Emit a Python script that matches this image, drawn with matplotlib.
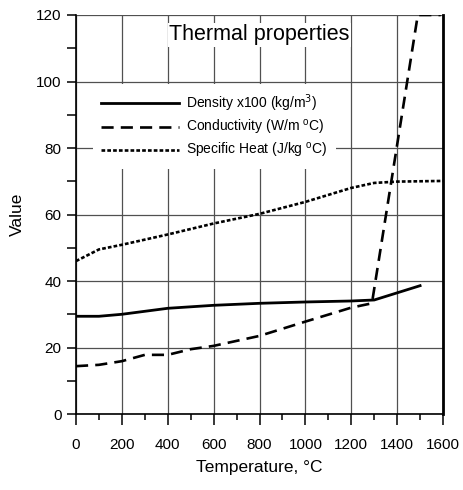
#!/usr/bin/env python3
import matplotlib
matplotlib.use("Agg")
import matplotlib.pyplot as plt
from matplotlib.ticker import MultipleLocator

plt.rcParams['font.family'] = ['Liberation Sans', 'DejaVu Sans']

# data
temp_density = [0, 100, 200, 400, 600, 800, 1000, 1200, 1300, 1500]
density = [29.4, 29.4, 30.0, 31.8, 32.7, 33.3, 33.7, 34.0, 34.3, 38.6]

temp_cond = [0, 100, 200, 300, 400, 500, 600, 800, 1000, 1200, 1290, 1490, 1590]
conductivity = [14.4, 14.8, 15.9, 17.8, 17.8, 19.5, 20.5, 23.5, 27.8, 32.0, 33.3, 120, 120]

temp_heat = [0, 100, 200, 400, 600, 800, 1000, 1200, 1300, 1400, 1600]
specific_heat = [46.0, 49.5, 50.9, 54.0, 57.3, 60.2, 63.8, 68.0, 69.5, 69.9, 70.1]

labels = ["Density x100 (kg/m$^3$)", "Conductivity (W/m $^\\mathregular{o}$C)",
          "Specific Heat (J/kg $^\\mathregular{o}$C)"]


def main():
    fig = plt.figure(figsize=(4.64, 4.90), dpi=100)
    ax = fig.add_axes([0.1638, 0.155, 0.791, 0.8144])

    ax.plot(temp_density, density, color="black", lw=2.0, label=labels[0])
    ax.plot(temp_cond, conductivity, color="black", lw=1.9, dashes=(4.6, 2.7), label=labels[1])
    ax.plot(temp_heat, specific_heat, color="black", lw=1.9, dashes=(1.4, 0.8), label=labels[2])

    ax.set_xlim(0, 1600)
    ax.set_ylim(0, 120)
    ax.xaxis.set_major_locator(MultipleLocator(200))
    ax.xaxis.set_minor_locator(MultipleLocator(100))
    ax.yaxis.set_major_locator(MultipleLocator(20))
    ax.yaxis.set_minor_locator(MultipleLocator(10))
    ax.grid(True, which="major", color="#505050", lw=0.9)
    ax.set_axisbelow(True)

    ax.tick_params(axis="x", which="major", direction="out", length=8, width=1.1, labelsize=11, pad=9)
    ax.tick_params(axis="x", which="minor", direction="out", length=4.3, width=1.1)
    ax.tick_params(axis="y", which="both", direction="out", length=6.5, width=1.1, labelsize=11, pad=4)

    ax.spines["top"].set_visible(False)
    ax.spines["left"].set_linewidth(1.2)
    ax.spines["bottom"].set_linewidth(1.2)
    ax.spines["right"].set_linewidth(2.0)

    ax.set_xlabel("Temperature, °C", fontsize=12.5, labelpad=6)
    ax.set_ylabel("Value", fontsize=12.5, labelpad=8)

    ax.text(0.5, 0.95, "Thermal properties", transform=ax.transAxes, ha="center", va="center",
            fontsize=15.5, bbox=dict(facecolor="white", edgecolor="none", pad=1))

    leg = ax.legend(loc="upper left", bbox_to_anchor=(0.046, 0.828), frameon=True,
                    fancybox=False, edgecolor="white", framealpha=1, handlelength=5.6,
                    handletextpad=0.5, labelspacing=0.32, borderaxespad=0, borderpad=0.6,
                    prop={"size": 10})
    leg.get_frame().set_linewidth(0)

    fig.savefig("out.png", dpi=100)


if __name__ == "__main__":
    main()
